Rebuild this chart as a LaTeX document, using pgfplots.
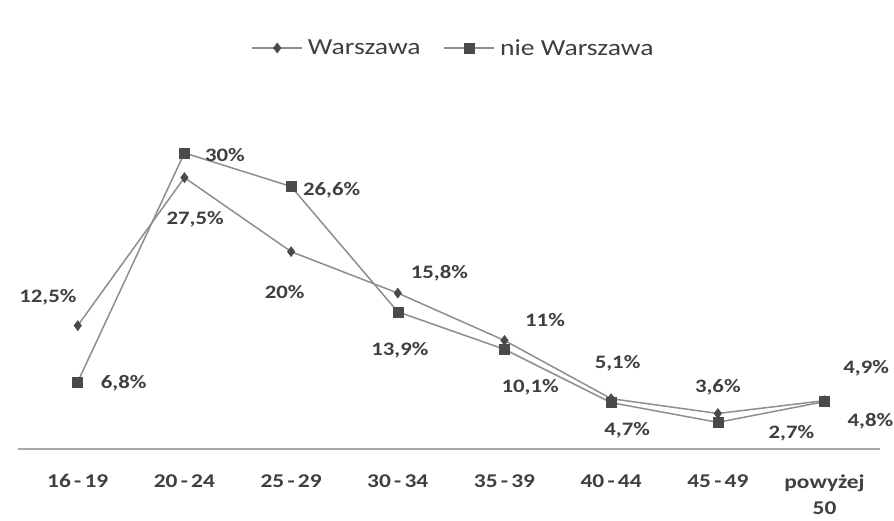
\documentclass[border=0pt]{standalone}
\usepackage{fontspec}
\setmainfont{Carlito}[FakeStretch=1.2]
\usepackage{pgfplots}
\pgfplotsset{compat=1.18}
\definecolor{txt}{HTML}{3F3F3F}
\definecolor{ln}{HTML}{8E8E8E}
\definecolor{mk}{HTML}{4A4A4A}
\definecolor{axc}{HTML}{A8A8A8}
\begin{document}
\begin{tikzpicture}[x=1pt,y=1pt]
\useasboundingbox (0,0) rectangle (894,520);
\begin{axis}[
  at={(18pt,71pt)}, anchor=south west,
  scale only axis, width=862pt, height=345.4pt,
  xmin=-0.56, xmax=7.52, ymin=0, ymax=35,
  axis x line=bottom, axis y line=none,
  x axis line style={-, draw=axc, line width=2pt},
  xtick={0,...,7},
  xticklabels={16\,-\,19, 20\,-\,24, 25\,-\,29, 30\,-\,34, 35\,-\,39, 40\,-\,44, 45\,-\,49, {powyżej\\50}},
  xticklabel style={align=center, font=\fontsize{19.5}{26}\selectfont\bfseries, text=txt, anchor=north, yshift=-22pt},
  major tick length=0pt,
  clip=false,
  legend style={at={(0.507,1.161)}, anchor=center, draw=none, fill=none,
    font=\fontsize{23}{26}\selectfont, text=txt, nodes={inner xsep=5pt},
    /tikz/every even column/.append style={column sep=18pt}},
  legend columns=2,
  legend image code/.code={\draw[mark repeat=2,mark phase=2,#1] plot coordinates {(0pt,0pt) (25pt,0pt) (50pt,0pt)};},
]
\addplot[color=ln, line width=1.5pt, mark=diamond*, mark size=5pt, mark options={fill=mk, draw=mk, line width=0.5pt}]
  coordinates {(0,12.5) (1,27.5) (2,20) (3,15.8) (4,11) (5,5.1) (6,3.6) (7,4.9)};
\addlegendentry{Warszawa}
\addplot[color=ln, line width=1.5pt, mark=square*, mark size=5pt, mark options={fill=mk, draw=mk, line width=0.5pt}]
  coordinates {(0,6.8) (1,30) (2,26.6) (3,13.9) (4,10.1) (5,4.7) (6,2.7) (7,4.8)};
\addlegendentry{nie Warszawa}
\begin{scope}[every node/.style={font=\fontsize{19}{22}\selectfont\bfseries, text=txt}]
\node at (axis cs:-0.28,15.4) {12,5\%};
\node at (axis cs:0.43,6.7) {6,8\%};
\node at (axis cs:1.38,29.8) {30\%};
\node at (axis cs:1.10,23.3) {27,5\%};
\node at (axis cs:2.38,26.2) {26,6\%};
\node at (axis cs:1.94,15.9) {20\%};
\node at (axis cs:3.39,17.8) {15,8\%};
\node at (axis cs:3.02,10.0) {13,9\%};
\node at (axis cs:4.38,13.1) {11\%};
\node at (axis cs:4.24,6.3) {10,1\%};
\node at (axis cs:5.06,8.7) {5,1\%};
\node at (axis cs:5.15,1.9) {4,7\%};
\node at (axis cs:6.0,6.3) {3,6\%};
\node at (axis cs:6.69,1.6) {2,7\%};
\node at (axis cs:7.39,8.2) {4,9\%};
\node at (axis cs:7.43,2.8) {4,8\%};
\end{scope}
\end{axis}
\end{tikzpicture}
\end{document}
